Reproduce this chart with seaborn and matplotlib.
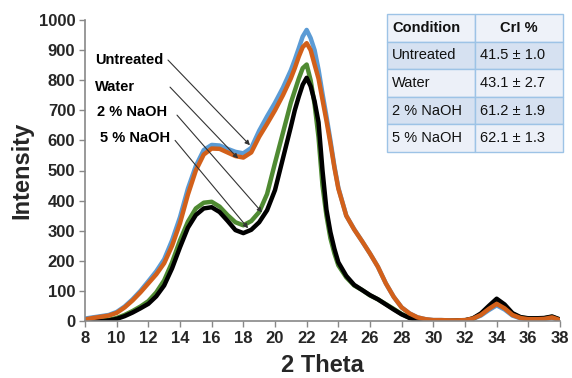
import numpy as np
import pandas as pd
import seaborn as sns
import matplotlib
matplotlib.use("Agg")
import matplotlib.pyplot as plt

# ---------------- data ----------------
theta = [8, 8.5, 9, 9.5, 10, 10.5, 11, 11.5, 12, 12.5, 13, 13.5, 14, 14.5, 15, 15.5,
         16, 16.5, 17, 17.5, 18, 18.5, 19, 19.5, 20, 20.5, 21, 21.25, 21.5, 21.75,
         22, 22.25, 22.5, 22.75, 23, 23.25, 23.5, 23.75, 24, 24.5, 25, 25.5, 26,
         26.5, 27, 27.5, 28, 28.5, 29, 29.5, 30, 30.5, 31, 31.5, 32, 32.5, 33, 33.5,
         34, 34.5, 35, 35.5, 36, 36.5, 37, 37.5, 38]

untreated = [8, 12, 16, 20, 30, 48, 72, 100, 132, 165, 205, 268, 345, 440, 515, 568,
             585, 583, 572, 562, 557, 575, 632, 680, 725, 775, 833, 868, 906, 945,
             967, 940, 900, 835, 755, 680, 600, 515, 443, 350, 305, 265, 224,
             180, 125, 80, 45, 25, 12, 6, 3, 3, 2, 2, 3, 7, 18, 36,
             52, 38, 18, 9, 6, 6, 7, 11, 3]

water = [5, 10, 14, 18, 27, 45, 68, 95, 125, 155, 192, 250, 325, 420, 500, 553,
         573, 572, 560, 548, 543, 560, 612, 655, 700, 750, 806, 840, 878, 910,
         923, 900, 852, 805, 735, 665, 590, 510, 440, 350, 304, 265, 224,
         180, 125, 80, 45, 25, 12, 6, 3, 3, 2, 2, 3, 8, 20, 40,
         57, 42, 20, 10, 6, 6, 7, 12, 3]

naoh2 = [0, 0, 1, 4, 10, 20, 33, 48, 66, 95, 135, 195, 268, 330, 374, 393,
         396, 380, 352, 328, 318, 332, 362, 422, 525, 625, 725, 765, 805, 840,
         852, 800, 720, 610, 450, 350, 275, 225, 185, 145, 118, 103, 85,
         72, 56, 40, 23, 11, 4, 1, 0, 0, 0, 1, 2, 8, 22, 45,
         70, 50, 24, 12, 8, 8, 9, 14, 4]

naoh5 = [0, 0, 0, 2, 7, 16, 28, 42, 57, 82, 118, 175, 245, 310, 352, 374,
         378, 362, 333, 302, 292, 303, 328, 368, 435, 540, 645, 700, 745, 785,
         808, 780, 730, 660, 500, 370, 295, 240, 195, 150, 120, 103, 86,
         72, 55, 38, 22, 10, 4, 1, 0, 0, 0, 1, 2, 9, 25, 50,
         74, 55, 26, 13, 9, 9, 10, 15, 5]

samples = ["Untreated", "Water", "2 % NaOH", "5 % NaOH"]
colors = {"Untreated": "#5B9BD5", "Water": "#D2601A",
          "2 % NaOH": "#4F8A32", "5 % NaOH": "#000000"}

table_header = ["Condition", "CrI %"]
table_conditions = ["Untreated", "Water", "2 % NaOH", "5 % NaOH"]
table_crl = ["41.5 ± 1.0", "43.1 ± 2.7", "61.2 ± 1.9", "62.1 ± 1.3"]

x_ticks = list(range(8, 39, 2))
y_ticks = list(range(0, 1001, 100))

# ---------------- build frame ----------------
series = {"Untreated": untreated, "Water": water, "2 % NaOH": naoh2, "5 % NaOH": naoh5}
frames = []
for name, vals in series.items():
    frames.append(pd.DataFrame({"theta": theta, "intensity": vals, "sample": name}))
df = pd.concat(frames, ignore_index=True)

sns.set_theme(style="ticks")
plt.rcParams["font.family"] = ["Liberation Sans", "DejaVu Sans"]

fig = plt.figure(figsize=(5.72, 3.78), dpi=100)
W, H = 572, 378
ax = fig.add_axes([85 / W, (H - 321) / H, 475 / W, 301 / H])

draw_order = ["Untreated", "2 % NaOH", "5 % NaOH", "Water"]
for name in draw_order:
    sns.lineplot(data=df[df["sample"] == name], x="theta", y="intensity",
                 color=colors[name], linewidth=3.2, estimator=None, sort=False,
                 legend=False, ax=ax, solid_joinstyle="round", solid_capstyle="round")

ax.set_xlim(8, 38)
ax.set_ylim(0, 1000)
ax.set_xticks(x_ticks)
ax.set_yticks(y_ticks)
ax.set_xticklabels([str(t) for t in x_ticks], fontsize=12, fontweight="bold")
ax.set_yticklabels([str(t) for t in y_ticks], fontsize=12, fontweight="bold")
ax.tick_params(axis="both", direction="out", length=4, width=1, color="#888888", pad=3)
for s in ["top", "right"]:
    ax.spines[s].set_visible(False)
for s in ["left", "bottom"]:
    ax.spines[s].set_color("#888888")
    ax.spines[s].set_linewidth(1.2)
ax.set_xlabel("2 Theta", fontsize=17, fontweight="bold", labelpad=6)
ax.set_ylabel("Intensity", fontsize=17, fontweight="bold", labelpad=4)

# ---------------- annotations ----------------
ann = [
    ("Untreated", (8.63, 867), (13.24, 867), (18.42, 584)),
    ("Water", (8.63, 777), (13.37, 777), (17.67, 540)),
    ("2 % NaOH", (8.76, 694), (13.81, 684), (19.18, 361)),
    ("5 % NaOH", (8.95, 607), (13.69, 600), (18.30, 308)),
]
for label, tpos, start, tip in ann:
    ax.text(tpos[0], tpos[1], label, fontsize=10.5, fontweight="bold",
            ha="left", va="center", color="black")
    ax.annotate("", xy=tip, xytext=start,
                arrowprops=dict(arrowstyle="-|>", color="#333333", lw=0.8,
                                mutation_scale=7, shrinkA=0, shrinkB=0))

# ---------------- table ----------------
tax = fig.add_axes([387 / W, (H - 152) / H, 176 / W, 138 / H])
tax.axis("off")
cell_text = [table_header] + [[c, v] for c, v in zip(table_conditions, table_crl)]
tbl = tax.table(cellText=cell_text, bbox=[0, 0, 1, 1], cellLoc="left")
tbl.auto_set_font_size(False)
row_colors = ["#EEF2F9", "#D6E1F1", "#ECF0F8", "#D6E1F1", "#ECF0F8"]
for (r, c), cell in tbl.get_celld().items():
    cell.set_edgecolor("#9DC3E6")
    cell.set_linewidth(1.0)
    cell.set_facecolor(row_colors[r])
    txt = cell.get_text()
    txt.set_fontsize(10.5)
    txt.set_color("#111111")
    cell.PAD = 0.06
    if r == 0:
        txt.set_fontweight("bold")
        if c == 1:
            txt.set_horizontalalignment("center")
            cell._loc = "center"

fig.savefig("out.png", dpi=100)
